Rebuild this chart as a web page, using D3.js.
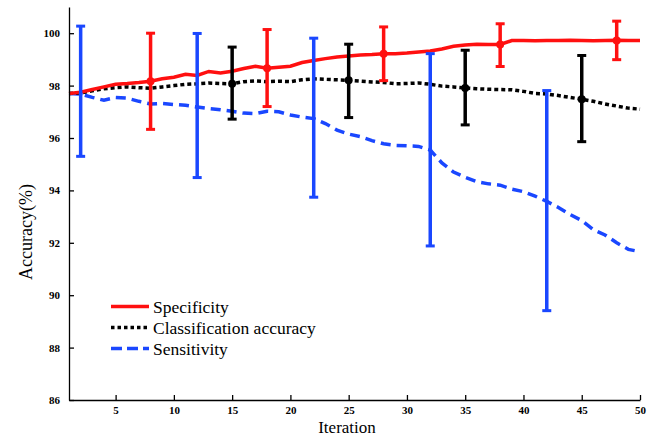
<!DOCTYPE html>
<html>
<head>
<meta charset="utf-8">
<script src="https://cdn.jsdelivr.net/npm/d3@7"></script>
<style>
  body { margin: 0; background: #fff; }
  svg text { font-family: "Liberation Serif", "Times New Roman", Times, "DejaVu Serif", serif; fill: #000; }
  .axis text { font-size: 11px; font-weight: bold; }
  .axis path, .axis line { stroke: #000; stroke-width: 1.3; }
  .title { font-size: 18px; }
  .legend text { font-size: 17.5px; }
</style>
</head>
<body>
<svg id="chart" width="662" height="439"></svg>
<script>
  var iterations = d3.range(1, 51);

  var specificity = [97.70, 97.75, 97.85, 97.95, 98.05, 98.08, 98.12, 98.17, 98.26, 98.32,
                     98.43, 98.39, 98.54, 98.48, 98.55, 98.65, 98.74, 98.66, 98.70, 98.74,
                     98.88, 98.96, 99.03, 99.09, 99.13, 99.17, 99.19, 99.22, 99.22, 99.24,
                     99.28, 99.32, 99.40, 99.50, 99.55, 99.58, 99.57, 99.57, 99.72, 99.72,
                     99.71, 99.72, 99.72, 99.73, 99.72, 99.71, 99.72, 99.73, 99.72, 99.72];

  var accuracy = [97.70, 97.72, 97.80, 97.88, 97.92, 97.95, 97.92, 97.90, 97.95, 98.00,
                  98.05, 98.07, 98.10, 98.08, 98.07, 98.15, 98.18, 98.15, 98.17, 98.15,
                  98.22, 98.26, 98.24, 98.22, 98.20, 98.17, 98.14, 98.12, 98.07, 98.08,
                  98.10, 98.05, 97.98, 97.95, 97.91, 97.88, 97.86, 97.85, 97.84, 97.78,
                  97.70, 97.68, 97.62, 97.55, 97.48, 97.40, 97.30, 97.22, 97.14, 97.10];

  var sensitivity = [97.70, 97.68, 97.55, 97.44, 97.55, 97.52, 97.40, 97.30, 97.32, 97.28,
                     97.25, 97.18, 97.12, 97.08, 97.02, 96.95, 96.93, 97.02, 97.00, 96.88,
                     96.80, 96.74, 96.55, 96.30, 96.15, 96.05, 95.90, 95.78, 95.72, 95.70,
                     95.68, 95.54, 95.05, 94.70, 94.50, 94.33, 94.25, 94.20, 94.05, 93.95,
                     93.78, 93.58, 93.35, 93.08, 92.85, 92.50, 92.30, 92.00, 91.75, 91.66];

  // error bars: iteration, series, centre, low, high
  var errIter   = [2, 8, 12, 15, 18, 22, 25, 28, 32, 35, 38, 42, 45, 48];
  var errSeries = ["sen", "spe", "sen", "acc", "spe", "sen", "acc", "spe", "sen", "acc", "spe", "sen", "acc", "spe"];
  var errMid    = [97.68, 98.17, 97.18, 98.07, 98.66, 96.74, 98.20, 99.22, 95.54, 97.91, 99.57, 93.58, 97.48, 99.72];
  var errLow    = [95.30, 96.33, 94.49, 96.72, 97.20, 93.74, 96.78, 98.19, 91.88, 96.50, 98.73, 89.41, 95.86, 98.99];
  var errHigh   = [100.27, 100.00, 99.99, 99.47, 100.14, 99.81, 99.58, 100.24, 99.22, 99.35, 100.36, 97.81, 99.15, 100.46];

  var xTicks = [5, 10, 15, 20, 25, 30, 35, 40, 45, 50];
  var yTicks = [86, 88, 90, 92, 94, 96, 98, 100];

  var legendNames = ["Specificity", "Classification accuracy", "Sensitivity"];

  var colors = {spe: "#ff1010", acc: "#000000", sen: "#1a47ff"},
      dashes = {spe: null, acc: "4,3", sen: "10,6"};

  var svg = d3.select("#chart"),
      margin = {top: 7, right: 22, bottom: 39, left: 69},
      width = +svg.attr("width") - margin.left - margin.right,
      height = +svg.attr("height") - margin.top - margin.bottom;

  var x = d3.scaleLinear().domain([1, 50]).range([0, width]),
      y = d3.scaleLinear().domain([86, 101]).range([height, 0]);

  var g = svg.append("g")
      .attr("transform", "translate(" + margin.left + "," + margin.top + ")");

  var series = [
    {key: "spe", values: specificity},
    {key: "acc", values: accuracy},
    {key: "sen", values: sensitivity}
  ];

  var line = d3.line()
      .x(function(d, i) { return x(iterations[i]); })
      .y(function(d) { return y(d); });

  g.selectAll(".series")
    .data(series.slice().reverse())
    .enter().append("path")
      .attr("class", "series")
      .attr("fill", "none")
      .attr("stroke", function(d) { return colors[d.key]; })
      .attr("stroke-width", 3.5)
      .attr("stroke-dasharray", function(d) { return dashes[d.key]; })
      .attr("d", function(d) { return line(d.values); });

  // error bars
  var bars = g.selectAll(".err")
    .data(errIter.map(function(it, i) {
      return {it: it, key: errSeries[i], mid: errMid[i], lo: errLow[i], hi: errHigh[i]};
    }))
    .enter().append("g")
      .attr("class", "err")
      .attr("stroke", function(d) { return colors[d.key]; })
      .attr("fill", function(d) { return colors[d.key]; });

  bars.append("line")
      .attr("x1", function(d) { return x(d.it); })
      .attr("x2", function(d) { return x(d.it); })
      .attr("y1", function(d) { return y(d.lo); })
      .attr("y2", function(d) { return y(d.hi); })
      .attr("stroke-width", 3.5);

  bars.selectAll(".cap")
    .data(function(d) { return [d.lo, d.hi].map(function(v) { return {it: d.it, v: v}; }); })
    .enter().append("line")
      .attr("x1", function(d) { return x(d.it) - 4.5; })
      .attr("x2", function(d) { return x(d.it) + 4.5; })
      .attr("y1", function(d) { return y(d.v); })
      .attr("y2", function(d) { return y(d.v); })
      .attr("stroke-width", 3);

  bars.append("circle")
      .attr("cx", function(d) { return x(d.it); })
      .attr("cy", function(d) { return y(d.mid); })
      .attr("r", function(d) { return d.key === "sen" ? 2 : 4; })
      .attr("stroke", "none");

  // axes
  var xAxis = g.append("g")
      .attr("class", "axis axis--x")
      .attr("transform", "translate(0," + height + ")")
      .call(d3.axisBottom(x).tickValues(xTicks).tickSizeInner(-5).tickSizeOuter(0).tickPadding(6));

  var yAxis = g.append("g")
      .attr("class", "axis axis--y")
      .call(d3.axisLeft(y).tickValues(yTicks).tickSizeInner(-5).tickSizeOuter(0).tickPadding(9));

  // d3 puts font-family="sans-serif" on the axis groups, drop it
  xAxis.attr("font-family", null);
  yAxis.attr("font-family", null);

  svg.append("text")
      .attr("class", "title")
      .attr("text-anchor", "middle")
      .attr("transform", "translate(32,232) rotate(-90)")
      .text("Accuracy(%)");

  svg.append("text")
      .attr("class", "title")
      .attr("text-anchor", "middle")
      .attr("x", 347)
      .attr("y", 433)
      .style("font-size", "17px")
      .text("Iteration");

  // legend
  var legend = svg.append("g")
      .attr("class", "legend")
      .attr("transform", "translate(111,306.5)");

  var rows = legend.selectAll(".row")
    .data(series)
    .enter().append("g")
      .attr("class", "row")
      .attr("transform", function(d, i) { return "translate(0," + (i * 21) + ")"; });

  rows.append("line")
      .attr("x1", 0)
      .attr("x2", 38)
      .attr("stroke", function(d) { return colors[d.key]; })
      .attr("stroke-width", 3.5)
      .attr("stroke-dasharray", function(d) { return d.key === "acc" ? "3.5,3" : (d.key === "sen" ? "11,5" : null); });

  rows.append("text")
      .attr("x", 42)
      .attr("y", 6)
      .text(function(d, i) { return legendNames[i]; });
</script>
</body>
</html>
